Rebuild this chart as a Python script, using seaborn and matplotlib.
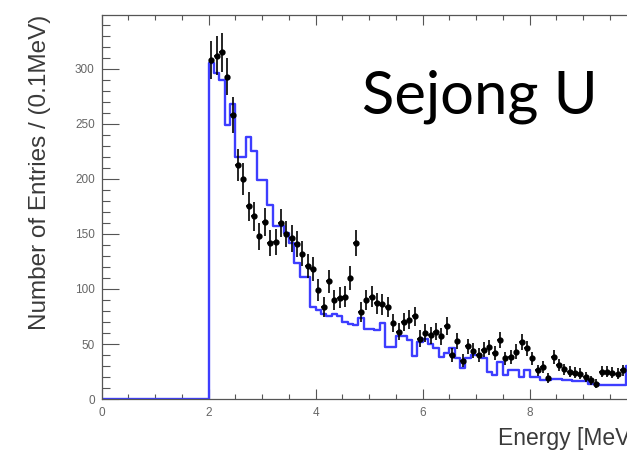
"""
Energy spectrum of selected events: data points over the expected
spectrum (blue step histogram), 0.1 MeV bins.
"""

## Import packages
import numpy as np
import pandas as pd
import matplotlib
matplotlib.use('Agg')
import matplotlib.pyplot as plt
from matplotlib.ticker import MultipleLocator
import seaborn as sns


## Data
# Bin edges in MeV (0.1 MeV bins from 0 to 10)
bin_width = 0.1
edges = np.round(np.arange(0, 10.0 + bin_width / 2, bin_width), 2)
centers = np.round(edges[:-1] + bin_width / 2, 2)

# Expected spectrum (blue), bins 2.05 ... 9.95; bins below 2 MeV are empty
expected_from_2 = [305, 296, 290, 249, 268, 220, 220, 238, 225, 199,
                   199, 176, 157, 157, 151, 142, 124, 111, 111, 84,
                   81, 77, 75, 77, 75, 70, 68, 67, 74, 64,
                   64, 63, 69, 47, 47, 57, 57, 54, 39, 52,
                   55, 50, 46, 38, 42, 46, 37, 28, 37, 40,
                   40, 37, 25, 22, 34, 22, 26, 26, 20, 26,
                   20, 20, 17, 17, 18, 18, 17, 17, 16, 16,
                   16, 14, 14, 13, 13, 13, 13, 13, 30, 30]
expected = [0] * 20 + expected_from_2

# Measured data (black points), bin centres 2.05 ... 9.75
data_energy = centers[20:98]
data_counts = [308, 312, 315, 293, 258, 213, 200, 175, 166, 148,
               161, 142, 143, 160, 150, 146, 141, 132, 121, 118,
               99, 84, 107, 90, 92, 93, 110, 142, 79, 90,
               93, 87, 86, 84, 69, 61, 70, 72, 75, 55,
               60, 58, 61, 57, 66, 40, 53, 35, 48, 44,
               40, 45, 47, 42, 54, 37, 38, 43, 52, 46,
               37, 26, 29, 19, 38, 31, 27, 25, 24, 23,
               20, 17, 14, 25, 25, 24, 23, 26]

mc = pd.DataFrame({'energy': centers, 'entries': expected})
data = pd.DataFrame({'energy': data_energy, 'entries': data_counts})
data['err'] = np.sqrt(data['entries'])


## Style
sns.set_theme(style='white')
plt.rcParams['font.family'] = ['Liberation Sans', 'DejaVu Sans']
axis_grey = '#555555'
tick_grey = '#666666'
text_grey = '#3a3a3a'


## Create figure
fig = plt.figure(figsize=(6.27, 4.68), dpi=100)
# The frame runs past the right edge of the picture, like the cropped original
ax = fig.add_axes([0.1622, 0.1474, 0.853, 0.8205])

# Expected spectrum as a step histogram
sns.histplot(ax=ax, data=mc, x='energy', weights='entries', bins=edges.tolist(),
             element='step', fill=False, color='#3d3dff', linewidth=1.7)

# Data points with error bars
ax.errorbar(data['energy'], data['entries'], yerr=data['err'], xerr=bin_width / 2,
            fmt='o', color='black', markersize=3.5, elinewidth=1.2, capsize=0)

# Axis ranges
ax.set_xlim(0, 10)
ax.set_ylim(0, 349)

# Ticks (ROOT-like: inward, on bottom, top and left)
ax.xaxis.set_major_locator(MultipleLocator(2))
ax.xaxis.set_minor_locator(MultipleLocator(0.5))
ax.yaxis.set_major_locator(MultipleLocator(50))
ax.yaxis.set_minor_locator(MultipleLocator(10))
ax.tick_params(axis='x', which='both', direction='in', top=True, bottom=True,
               colors=axis_grey, labelcolor=tick_grey, labelsize=8.5, pad=6)
ax.tick_params(axis='x', which='major', length=7, width=0.8)
ax.tick_params(axis='x', which='minor', length=3.5, width=0.8)
ax.tick_params(axis='y', which='both', direction='in', left=True, right=False,
               colors=axis_grey, labelcolor=tick_grey, labelsize=8.5, pad=5)
ax.tick_params(axis='y', which='major', length=12, width=0.8)
ax.tick_params(axis='y', which='minor', length=5.5, width=0.8)

# Frame
for side in ['left', 'bottom', 'top']:
    ax.spines[side].set_color(axis_grey)
    ax.spines[side].set_linewidth(0.9)
ax.spines['right'].set_visible(False)

# Axis titles (right/top aligned, ROOT style)
ax.set_xlabel('Energy [MeV]', fontsize=16.5, color=text_grey, loc='right')
ax.xaxis.set_label_coords(1.0, -0.072)
ax.set_ylabel('Number of Entries / (0.1MeV)', fontsize=17.5, color=text_grey, loc='top')
ax.yaxis.set_label_coords(-0.095, 1.0)

# Institution tag
fig.text(362 / 627, 1 - 114 / 468, 'Sejong U', fontsize=43, family=['Lato', 'DejaVu Sans'],
         color='black', ha='left', va='baseline')

# Save figure
fig.savefig('out.png', dpi=100)
